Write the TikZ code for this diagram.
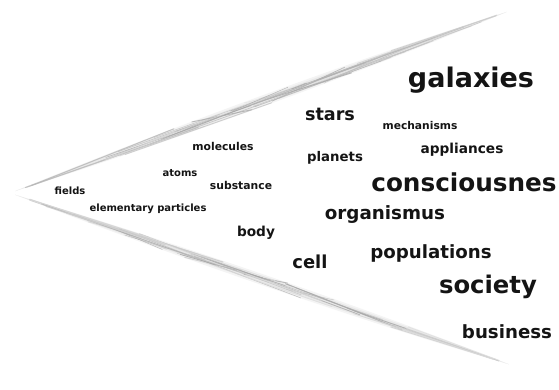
\documentclass[tikz,border=0pt]{standalone}
\usepackage{fontspec}
\setmainfont{DejaVu Sans}
\usetikzlibrary{calc}
\newcommand\wstreak[7]{%
  \draw[#7] ($(#1)!#3!(#2)!#5!90:(#2)$) -- ($(#1)!#4!(#2)!#6!90:(#2)$);}
\newcommand\wlens[4]{%
  \fill[#3] ($(#1)!0.01!(#2)$) .. controls ($(#1)!0.35!(#2)!#4!90:(#2)$) and ($(#1)!0.7!(#2)!#4!90:(#2)$) .. ($(#1)!0.99!(#2)$)
     .. controls ($(#1)!0.7!(#2)!-#4!90:(#2)$) and ($(#1)!0.35!(#2)!-#4!90:(#2)$) .. cycle;}
\newcommand\wbrush[3]{% A B seed
  \wlens{#1}{#2}{gray!9}{7pt}
  \wlens{#1}{#2}{gray!17}{4.5pt}
  \pgfmathsetseed{#3}
  \foreach \k in {1,...,40}{
    \pgfmathsetmacro\ta{0.03+0.8*rnd}
    \pgfmathsetmacro\tb{min(\ta+0.08+0.3*rnd,0.97)}
    \pgfmathsetmacro\oa{(2*rnd-1)*5*sin(180*\ta)}
    \pgfmathsetmacro\ob{(2*rnd-1)*5*sin(180*\tb)}
    \pgfmathsetmacro\gg{int(25+60*rnd*sin(90*(\ta+\tb)))}
    \pgfmathsetmacro\lw{0.3+0.8*rnd}
    \wstreak{#1}{#2}{\ta}{\tb}{\oa pt}{\ob pt}{brush,draw=gray!\gg,line width=\lw pt}
  }}
\begin{document}
\begin{tikzpicture}[x=1pt,y=-1pt,
  word/.style={anchor=center,inner sep=0pt,text=black!92,font=\bfseries},
  brush/.style={line cap=round,draw=gray!55,line width=0.6pt,opacity=0.8}]
\useasboundingbox[fill=white] (0,0) rectangle (559,390);
\coordinate (apex) at (10,193);
\coordinate (upend) at (512,10);
\coordinate (lowend) at (514,366);
% brush strokes
\wbrush{apex}{upend}{11}
\wbrush{apex}{lowend}{23}
% words
\node[word,font=\bfseries\fontsize{27}{27}\selectfont] (galaxies) at (471,80) {galaxies};
\node[word,font=\bfseries\fontsize{17.6}{18}\selectfont] (stars) at (330,114) {stars};
\node[word,font=\bfseries\fontsize{10.7}{11}\selectfont] (mechanisms) at (420,126) {mechanisms};
\node[word,font=\bfseries\fontsize{13.7}{14}\selectfont] (appliances) at (462,150) {appliances};
\node[word,font=\bfseries\fontsize{13.3}{14}\selectfont] (planets) at (335,158) {planets};
\node[word,font=\bfseries\fontsize{24.7}{25}\selectfont] (consc) at (464,182) {consciousnes};
\node[word,font=\bfseries\fontsize{10.8}{11}\selectfont] (molecules) at (223,146) {molecules};
\node[word,font=\bfseries\fontsize{10}{10}\selectfont] (atoms) at (180,173) {atoms};
\node[word,font=\bfseries\fontsize{10.8}{11}\selectfont] (substance) at (241,185) {substance};
\node[word,font=\bfseries\fontsize{10}{10}\selectfont] (fields) at (70,191) {fields};
\node[word,font=\bfseries\fontsize{10}{10}\selectfont] (elem) at (148,209) {elementary particles};
\node[word,font=\bfseries\fontsize{13.7}{14}\selectfont] (body) at (256,233) {body};
\node[word,font=\bfseries\fontsize{18.3}{19}\selectfont] (organismus) at (385,215) {organismus};
\node[word,font=\bfseries\fontsize{17.9}{18}\selectfont] (cell) at (310,262) {cell};
\node[word,font=\bfseries\fontsize{18.2}{19}\selectfont] (populations) at (431,253) {populations};
\node[word,font=\bfseries\fontsize{24.3}{25}\selectfont] (society) at (488,287) {society};
\node[word,font=\bfseries\fontsize{18.2}{19}\selectfont] (business) at (507,332) {business};
\end{tikzpicture}
\end{document}
